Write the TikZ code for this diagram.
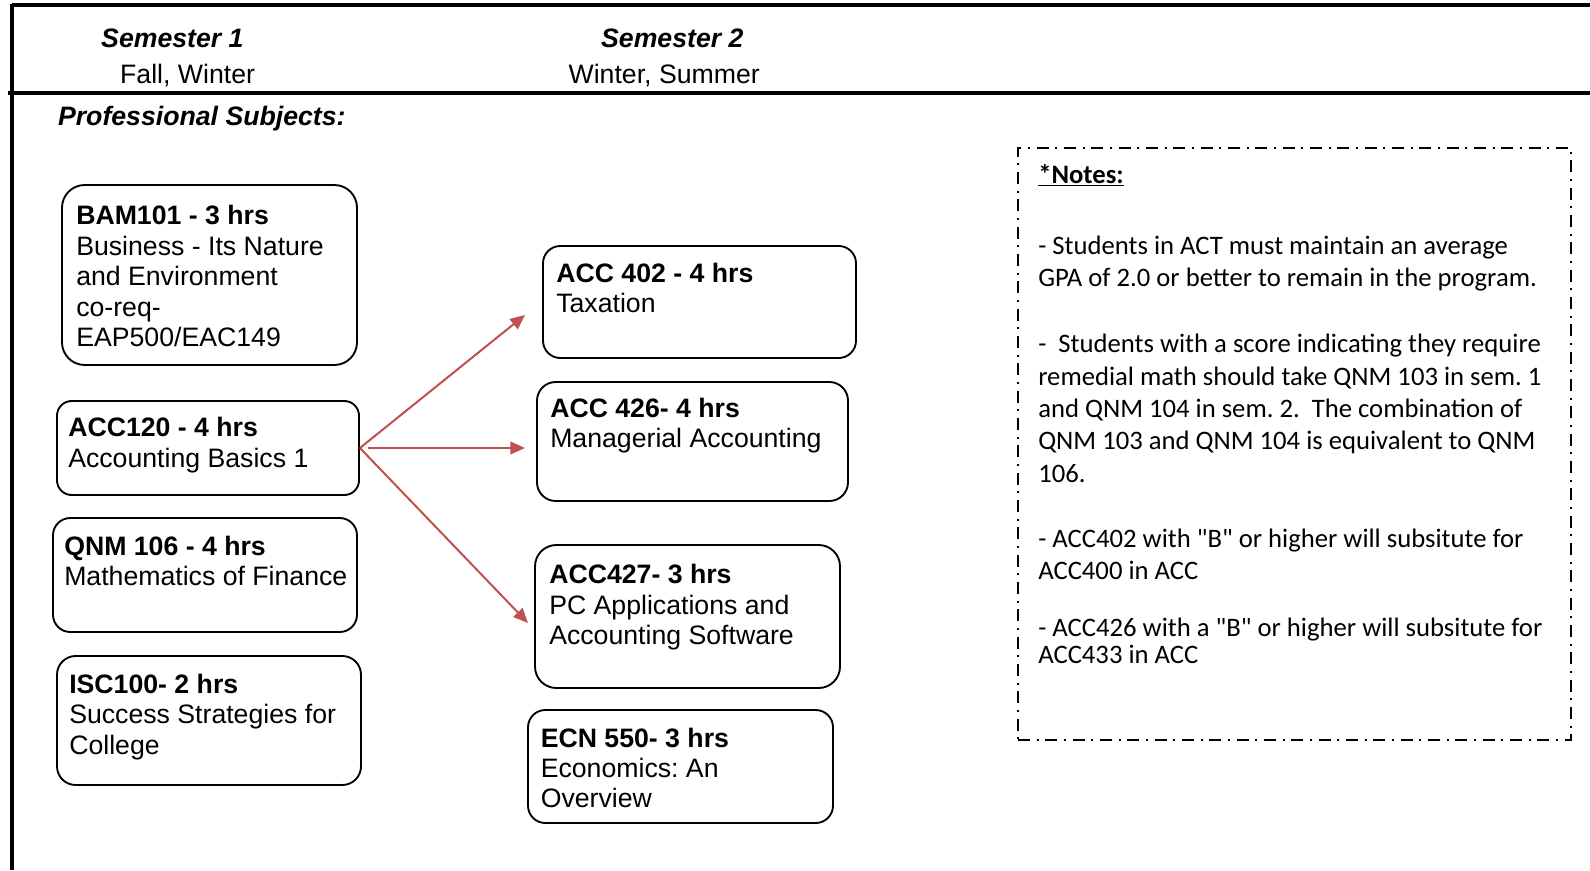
\documentclass[tikz,border=0pt]{standalone}
\usepackage{fontspec}
\setmainfont{Liberation Sans}
\newfontfamily\calib{Carlito}
\usetikzlibrary{arrows.meta,fit}
\definecolor{arrred}{HTML}{C0504D}
\newcommand{\tstrut}{\rule{0pt}{16pt}}
\frenchspacing
\tikzset{
  crsbox/.style={draw, line width=1.4pt, rounded corners=#1, inner sep=0pt},
  crstxt/.style={inner sep=0pt, align=left, anchor=north west, font=\fontsize{20}{22.8}\selectfont},
  hdr/.style={inner sep=0pt, anchor=base, font=\fontsize{20}{23}\selectfont},
  notetxt/.style={inner sep=0pt, align=left, anchor=north west, font=\calib\fontsize{20}{24.3}\selectfont},
  notesbox/.style={draw, line width=1.3pt, inner sep=0pt, dash pattern=on 9pt off 5pt on 1.5pt off 5pt},
  arr/.style={draw=arrred, line width=1.5pt, -{Triangle[length=11pt,width=9.5pt]}},
  rule/.style={line width=2.5pt}
}
\begin{document}
\begin{tikzpicture}[x=0.75pt,y=-0.75pt]
\useasboundingbox (0,0) rectangle (1590,870);
% frame lines
\draw[rule] (12,5) -- (1590,5);
\draw[rule] (8,93) -- (1590,93);
\draw[line width=2.4pt] (12,4) -- (12,870);
% headers
\node[hdr] (s1) at (172.4,48) {\textbf{\textit{Semester 1}}};
\node[hdr] (s1t) at (187.6,83.5) {Fall, Winter};
\node[hdr] (s2) at (672.3,48) {\textbf{\textit{Semester 2}}};
\node[hdr] (s2t) at (664.2,83.5) {Winter, Summer};
\node[hdr, anchor=base west] (prof) at (57.8,126) {\textbf{\textit{Professional Subjects:}}};
% semester 1 boxes
\node[crsbox=17pt, fit={(62,185) (357,365)}] (bam) {};
\node[crstxt] (bamt) at (76,203.2) {\tstrut\textbf{BAM101 - 3 hrs}\\Business - Its Nature\\and Environment\\co-req-\\EAP500/EAC149};
\node[crsbox=11pt, fit={(57,401) (359,495)}] (acc120) {};
\node[crstxt] (acc120t) at (68,415.2) {\tstrut\textbf{ACC120 - 4 hrs}\\Accounting Basics 1};
\node[crsbox=13pt, fit={(53,518) (357,632)}] (qnm) {};
\node[crstxt] (qnmt) at (64,533.7) {\tstrut\textbf{QNM 106 - 4 hrs}\\Mathematics of Finance};
\node[crsbox=14pt, fit={(57,656) (361,785)}] (isc) {};
\node[crstxt] (isct) at (69,671.7) {\tstrut\textbf{ISC100- 2 hrs}\\Success Strategies for\\College};
% semester 2 boxes
\node[crsbox=13pt, fit={(543,246) (856,358)}] (acc402) {};
\node[crstxt] (acc402t) at (556,260.7) {\tstrut\textbf{ACC 402 - 4 hrs}\\Taxation};
\node[crsbox=14pt, fit={(537,382) (848,501)}] (acc426) {};
\node[crstxt] (acc426t) at (550,395.7) {\tstrut\textbf{ACC 426- 4 hrs}\\Managerial Accounting};
\node[crsbox=16pt, fit={(535,545) (840,688)}] (acc427) {};
\node[crstxt] (acc427t) at (549,562.2) {\tstrut\textbf{ACC427- 3 hrs}\\PC Applications and\\Accounting Software};
\node[crsbox=13pt, fit={(528,710) (833,823)}] (ecn) {};
\node[crstxt] (ecnt) at (540.5,725.4) {\tstrut\textbf{ECN 550- 3 hrs}\\Economics: An\\Overview};
% arrows
\coordinate (t1) at (525,315);
\coordinate (t2) at (525,448);
\coordinate (t3) at (528,623);
\draw[arr] (acc120.east) -- (t1);
\draw[arr, shorten <=6pt] (acc120.east) -- (t2);
\draw[arr] (acc120.east) -- (t3);
% notes
\node[notesbox, fit={(1018,148) (1571,740)}] (notes) {};
\node[inner sep=0pt, anchor=base west, font=\calib\fontsize{20}{24.3}\selectfont] (nh) at (1038,183) {\underline{\textbf{*Notes:}}};
\node[notetxt] (n1) at (1038,232.7) {\tstrut- Students in ACT must maintain an average\\GPA of 2.0 or better to remain in the program.};
\node[notetxt] (n2) at (1038,331) {\tstrut-\ \ Students with a score indicating they require\\remedial math should take QNM 103 in sem. 1\\and QNM 104 in sem. 2.\ \ The combination of\\QNM 103 and QNM 104 is equivalent to QNM\\106.};
\node[notetxt] (n3) at (1038,525.7) {\tstrut- ACC402 with "B" or higher will subsitute for\\ACC400 in ACC};
\node[notetxt, font=\calib\fontsize{20}{20.25}\selectfont] (n4) at (1038,615) {\tstrut- ACC426 with a "B" or higher will subsitute for\\ACC433 in ACC};
\end{tikzpicture}
\end{document}
